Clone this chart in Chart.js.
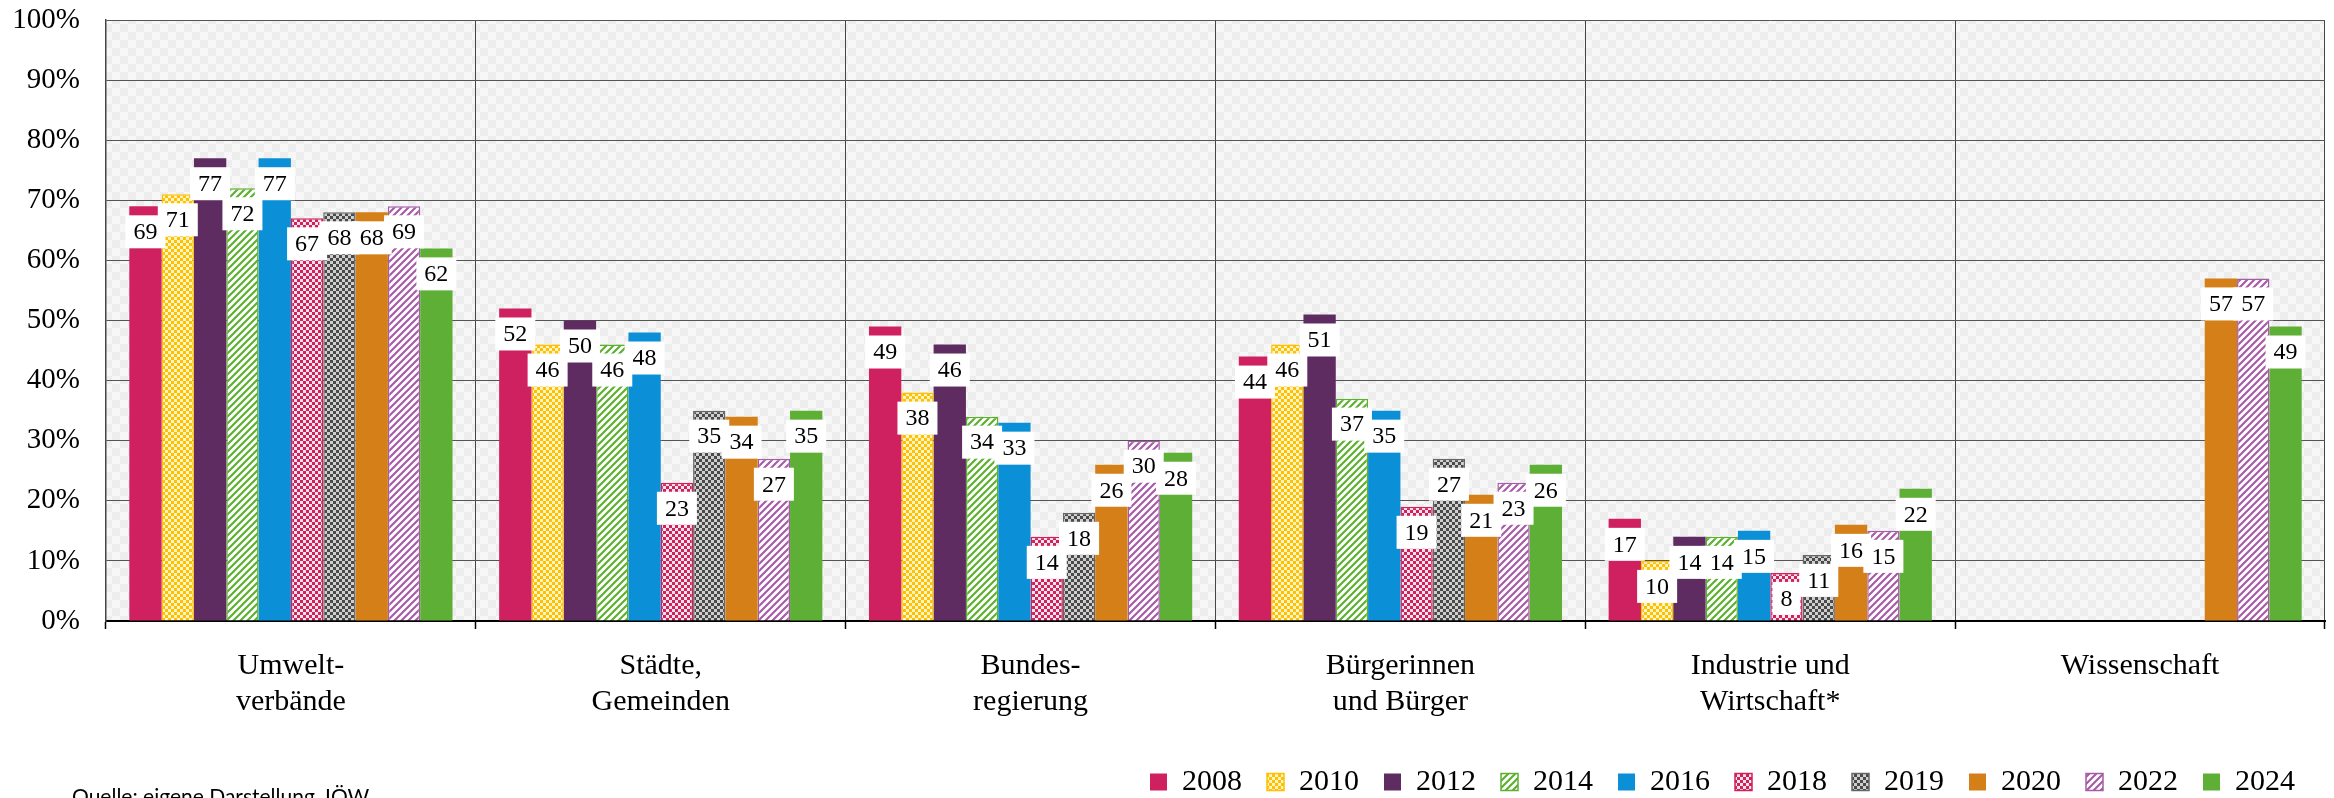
<!DOCTYPE html>
<html><head><meta charset="utf-8">
<script src="https://cdn.jsdelivr.net/npm/chart.js@4/dist/chart.umd.min.js"></script>
<style>html,body{margin:0;padding:0;background:#fff;overflow:hidden}#wrap{width:2334px;height:798px;position:relative}</style>
</head><body><div id="wrap"><canvas id="c" width="2334" height="798"></canvas></div>
<script>
// ---- data ----
const categories = [["Umwelt-","verbände"],["Städte,","Gemeinden"],["Bundes-","regierung"],["Bürgerinnen","und Bürger"],["Industrie und","Wirtschaft*"],"Wissenschaft"];
const years = ["2008","2010","2012","2014","2016","2018","2019","2020","2022","2024"];
const v2008 = [69,52,49,44,17,null];
const v2010 = [71,46,38,46,10,null];
const v2012 = [77,50,46,51,14,null];
const v2014 = [72,46,34,37,14,null];
const v2016 = [77,48,33,35,15,null];
const v2018 = [67,23,14,19,8,null];
const v2019 = [68,35,18,27,11,null];
const v2020 = [68,34,26,21,16,57];
const v2022 = [69,27,30,23,15,57];
const v2024 = [62,35,28,26,22,49];
const seriesValues = [v2008,v2010,v2012,v2014,v2016,v2018,v2019,v2020,v2022,v2024];
const yTickValues = [0,10,20,30,40,50,60,70,80,90,100];
const sourceText = "Quelle: eigene Darstellung, IÖW";

// ---- styles ----
function checker(c1, c2, s) {
  const cv = document.createElement('canvas'); cv.width = cv.height = 2*s;
  const g = cv.getContext('2d');
  g.fillStyle = c2; g.fillRect(0,0,2*s,2*s);
  g.fillStyle = c1; g.fillRect(0,0,s,s); g.fillRect(s,s,s,s);
  return g.createPattern(cv,'repeat');
}
function stripes(c, bg, n, w) {
  const cv = document.createElement('canvas'); cv.width = cv.height = n;
  const g = cv.getContext('2d');
  g.fillStyle = bg; g.fillRect(0,0,n,n);
  g.strokeStyle = c; g.lineWidth = w;
  g.beginPath();
  g.moveTo(-1,n+1); g.lineTo(n+1,-1);
  g.moveTo(-n/2-1, n/2+1); g.lineTo(n/2+1,-n/2-1);
  g.moveTo(n/2-1, n*1.5+1); g.lineTo(n*1.5+1, n/2-1);
  g.stroke();
  return g.createPattern(cv,'repeat');
}
const seriesFill = [
  '#CF2060',
  checker('#FFC000','#FFF3C8',3),
  '#5F2C62',
  stripes('#5DB030','#FFFFFF',7,2.2),
  '#0B8FD6',
  checker('#D0215E','#FBE3EA',3),
  checker('#4A4A4A','#CFCFCF',3),
  '#D47F18',
  stripes('#A65CA6','#FFFFFF',7,2.2),
  '#5DAF35'
];
const seriesBorder = ['#CF2060','#FFC000','#5F2C62','#5DB030','#0B8FD6','#D0215E','#666666','#D47F18','#A65CA6','#5DAF35'];
const seriesBorderWidth = [0,1.5,0,1.5,0,1.5,1.5,0,1.5,0];
const plotBg = checker('#EDEDED','#F7F7F7',8);

const datasets = years.map((y,i)=>({
  label: y,
  data: seriesValues[i],
  backgroundColor: seriesFill[i],
  borderColor: seriesBorder[i],
  borderWidth: seriesBorderWidth[i],
  categoryPercentage: 0.874,
  barPercentage: 1.0
}));

const bgPlugin = {
  id: 'bg',
  beforeDraw(chart) {
    const {ctx, chartArea: a} = chart;
    ctx.save(); ctx.fillStyle = plotBg; ctx.fillRect(a.left, a.top, a.right-a.left, a.bottom-a.top); ctx.restore();
  }
};
const layoutFix = {
  id: 'layoutFix',
  afterLayout(chart) {
    const l = chart.legend;
    if (!l) return;
    const h = l.height;
    l.right = 2320;
    l.top = 742; l.bottom = 742 + h;
  }
};
const valueLabels = {
  id: 'valueLabels',
  afterDatasetsDraw(chart) {
    const ctx = chart.ctx;
    ctx.save();
    ctx.font = '24px "Liberation Serif"';
    ctx.textAlign = 'center'; ctx.textBaseline = 'middle';
    chart.data.datasets.forEach((ds, di) => {
      const meta = chart.getDatasetMeta(di);
      meta.data.forEach((el, i) => {
        const v = ds.data[i];
        if (v === null || v === undefined) return;
        const t = String(v);
        const w = ctx.measureText(t).width + 16;
        const h = 33;
        const top = el.y + 9;
        ctx.fillStyle = '#FFFFFF';
        ctx.fillRect(el.x - w/2, top, w, h);
        ctx.fillStyle = '#000000';
        ctx.fillText(t, el.x, top + h/2 + 1);
      });
    });
    ctx.restore();
  }
};
const sourcePlugin = {
  id: 'source',
  afterDraw(chart) {
    const ctx = chart.ctx;
    ctx.save();
    ctx.font = '21px Lato';
    ctx.fillStyle = '#000';
    ctx.textAlign = 'left'; ctx.textBaseline = 'alphabetic';
    ctx.fillText(sourceText, 72, 804);
    ctx.restore();
  }
};

new Chart(document.getElementById('c'), {
  type: 'bar',
  data: { labels: categories, datasets },
  options: {
    responsive: false,
    animation: false,
    devicePixelRatio: 1,
    layout: { padding: { top: 0, right: 9, left: 0, bottom: 0 } },
    plugins: {
      tooltip: { enabled: false },
      legend: {
        position: 'bottom',
        align: 'end',
        labels: {
          font: { family: 'Liberation Serif', size: 30 },
          color: '#000',
          boxWidth: 17, boxHeight: 17,
          padding: 25
        }
      }
    },
    scales: {
      x: {
        grid: { color: '#454545', lineWidth: 1, drawTicks: true, tickLength: 8, tickColor: '#000', tickWidth: 1.5, offset: true },
        border: { display: true, color: '#000', width: 2 },
        ticks: { font: { family: 'Liberation Serif', size: 30, lineHeight: 1.2 }, color: '#000', padding: 19, maxRotation: 0, autoSkip: false },
        afterFit(s) { s.height = 112; }
      },
      y: {
        min: 0, max: 100,
        afterBuildTicks(s) { s.ticks = yTickValues.map(v => ({ value: v })); },
        grid: { color: '#555555', lineWidth: 1, drawTicks: false },
        border: { display: true, color: '#454545', width: 1.5 },
        ticks: { font: { family: 'Liberation Serif', size: 29 }, color: '#000', padding: 26, callback: v => v + '%' },
        afterFit(s) { s.width = 106; s.paddingTop = 20; s.paddingBottom = 0; }
      }
    }
  },
  plugins: [bgPlugin, layoutFix, valueLabels, sourcePlugin]
});
</script>
</body></html>
